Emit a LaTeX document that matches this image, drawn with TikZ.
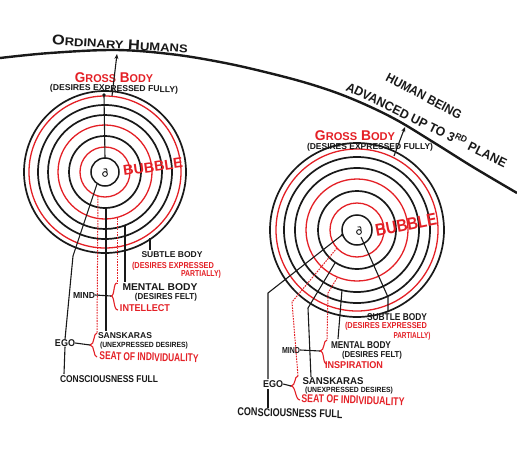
\documentclass[tikz,border=0pt]{standalone}
\usepackage{fontspec}
\setmainfont{Liberation Sans}
\usepackage{graphicx}
\usetikzlibrary{arrows.meta}
\definecolor{ink}{RGB}{25,25,25}
\definecolor{inkred}{RGB}{228,32,38}
\newcommand{\fitbox}[3]{\resizebox*{#1pt}{#2pt}{#3}}
\begin{document}
\begin{tikzpicture}[x=1pt,y=-1pt,
  lab/.style={inner sep=0pt,text=ink,font=\bfseries},
  rlab/.style={inner sep=0pt,text=inkred,font=\bfseries},
  kline/.style={draw=ink,line width=1.1pt},
  rdash/.style={draw=inkred,line width=1pt,dash pattern=on 1.6pt off 1.1pt},
  rbrace/.style={draw=inkred,line width=1.1pt},
  arr/.style={draw=ink,line width=1.1pt,-{Stealth[length=5pt,width=4pt]}},
  horizon/.style={draw=ink,line width=2.4pt}]
\useasboundingbox (0,0) rectangle (517,450);
\fill[white] (0,0) rectangle (517,450);

% horizon curve
\draw[horizon] plot[smooth,tension=0.6] coordinates {(0,58) (50,53) (115,50) (170,54) (220,62) (265,72) (310,84) (350,98) (393,118) (433,142) (473,167) (517,193)};

\node[lab,rotate=-3.5] (ordh) at (120,44) {\fitbox{136}{10}{O{\footnotesize RDINARY} H{\footnotesize UMANS}}};
\node[lab,rotate=-28] (hb) at (424,96) {\fitbox{84}{9}{HUMAN BEING}};
\node[lab,rotate=-26] (adv) at (427,124) {\fitbox{177}{11}{ADVANCED UP TO 3\textsuperscript{RD} PLANE}};

% ---- left bubble ----
\coordinate (c1) at (105,172);
\foreach \r/\c/\w in {81/ink/1.7,67/ink/1.7,57/ink/1.7,36/ink/1.7,14/ink/1.5,76/inkred/1.3,47/inkred/1.3,25/inkred/1.3}
  \draw[draw=\c,line width=\w pt] (c1) circle[radius=\r];
\draw[ink,line width=0.9pt] (105,174) circle[radius=2.4];
\draw[ink,line width=0.9pt] (106.8,172.6) .. controls (108,169) and (105,167.5) .. (103.5,169);

\node[rlab] (grL) at (114,77.5) {\fitbox{78}{10}{G{\footnotesize ROSS} B{\footnotesize ODY}}};
\node[lab,rotate=-1] (grLa) at (114,89) {\fitbox{128}{8}{(DESIRES EXPRESSED FULLY)}};
\node[rlab,rotate=8] (bubL) at (153,167) {\fitbox{60}{10}{BUBBLE}};

\coordinate (aL0) at (112,96);
\coordinate (aL1) at (117,54);
\draw[arr] (aL0) -- (aL1);
\coordinate (vL0) at (104,95);
\coordinate (vL1) at (105,158);
\fill[ink] (vL0) circle[radius=1.8];
\draw[kline] (vL0) -- (vL1);

\node[lab] (subL) at (172,255) {\fitbox{61}{6}{SUBTLE BODY}};
\node[rlab] (subLa) at (173,266) {\fitbox{82}{8}{(DESIRES EXPRESSED}};
\node[rlab] (subLb) at (201,274) {\fitbox{40}{8}{PARTIALLY)}};
\node[lab] (menL) at (160,287) {\fitbox{75}{7}{MENTAL BODY}};
\node[lab] (menLa) at (166,297) {\fitbox{62}{8}{(DESIRES FELT)}};
\node[lab] (mindL) at (84,295) {\fitbox{22}{6}{MIND}};
\node[rlab] (intL) at (145,308) {\fitbox{50}{7}{INTELLECT}};
\node[lab] (egoL) at (65,343) {\fitbox{20}{7}{EGO}};
\node[lab] (sanL) at (125,336) {\fitbox{54}{6}{SANSKARAS}};
\node[lab] (sanLa) at (144,346) {\fitbox{88}{7}{(UNEXPRESSED DESIRES)}};
\node[rlab,rotate=-1.5] (seatL) at (149,357) {\fitbox{99}{8}{SEAT OF INDIVIDUALITY}};
\node[lab] (conL) at (109,379) {\fitbox{98}{7}{CONSCIOUSNESS FULL}};

% consciousness line
\coordinate (l1a) at (97,184);
\coordinate (l1b) at (73,256);
\coordinate (l1c) at (64,374);
\draw[kline] (l1a) -- (l1b) -- (egoL.north);
\draw[kline] (egoL.south) -- (l1c);
% seat of individuality (red)
\coordinate (l2a) at (98,196);
\coordinate (bEL) at (97,333);
\coordinate (tEL) at (90,345);
\draw[rdash] (l2a) -- (bEL);
\draw[rbrace] (bEL) .. controls (93,333) and (95,345) .. (tEL) .. controls (95,345) and (93,357) .. (97,357);
\draw[kline] (egoL.east) -- (tEL);
% sanskaras
\coordinate (l3a) at (106,208);
\coordinate (l3b) at (106,331);
\draw[kline] (l3a) -- (l3b);
% intellect (red)
\coordinate (l4a) at (117,218);
\coordinate (bML) at (117,283);
\coordinate (tML) at (111,296);
\draw[rdash] (l4a) -- (bML);
\draw[rbrace] (bML) .. controls (113,283) and (115,296) .. (tML) .. controls (115,296) and (113,310) .. (118,310);
\draw[kline] (mindL.east) -- (tML);
% mental body
\coordinate (l5a) at (125,226);
\coordinate (l5b) at (125,282);
\draw[kline] (l5a) -- (l5b);
% subtle body
\coordinate (l6a) at (150,238);
\coordinate (l6b) at (150,250);
\draw[kline] (l6a) -- (l6b);

% ---- right bubble ----
\coordinate (c2) at (357,230);
\foreach \r/\c/\w in {87/ink/1.7,73/ink/1.7,62/ink/1.7,39/ink/1.7,15/ink/1.5,81/inkred/1.3,51/inkred/1.3,27/inkred/1.3}
  \draw[draw=\c,line width=\w pt] (c2) circle[radius=\r];
\draw[ink,line width=0.9pt] (359,232) circle[radius=2.4];
\draw[ink,line width=0.9pt] (360.8,230.6) .. controls (362,227) and (359,225.5) .. (357.5,227);

\node[rlab] (grR) at (355,136) {\fitbox{80}{10}{G{\footnotesize ROSS} B{\footnotesize ODY}}};
\node[lab] (grRa) at (370,147) {\fitbox{126}{8}{(DESIRES EXPRESSED FULLY)}};
\node[rlab,rotate=11] (bubR) at (406,225) {\fitbox{62}{12}{BUBBLE}};

\coordinate (aR0) at (394,156);
\coordinate (aR1) at (405,127);
\draw[arr] (aR0) -- (aR1);

\node[lab] (subR) at (397,317) {\fitbox{60}{7}{SUBTLE BODY}};
\node[rlab] (subRa) at (386,326) {\fitbox{82}{8}{(DESIRES EXPRESSED}};
\node[rlab] (subRb) at (412,336) {\fitbox{37}{8}{PARTIALLY)}};
\node[lab] (menR) at (361,345) {\fitbox{60}{7}{MENTAL BODY}};
\node[lab] (menRa) at (372,355) {\fitbox{60}{8}{(DESIRES FELT)}};
\node[lab] (mindR) at (291,350) {\fitbox{18}{6}{MIND}};
\node[rlab] (insR) at (354,365) {\fitbox{58}{7}{INSPIRATION}};
\node[lab] (egoR) at (273,384) {\fitbox{20}{7}{EGO}};
\node[lab] (sanR) at (333,381) {\fitbox{61}{7}{SANSKARAS}};
\node[lab] (sanRa) at (349,391) {\fitbox{88}{7}{(UNEXPRESSED DESIRES)}};
\node[rlab,rotate=-2] (seatR) at (353,400) {\fitbox{103}{8}{SEAT OF INDIVIDUALITY}};
\node[lab,rotate=-1.5] (conR) at (290,413) {\fitbox{105}{8}{CONSCIOUSNESS FULL}};

% consciousness line
\coordinate (r1a) at (342,235);
\coordinate (r1b) at (268,293);
\coordinate (r1c) at (268,379);
\coordinate (r1d) at (268,389);
\coordinate (r1e) at (268,408);
\fill[ink] (r1a) circle[radius=1.5];
\draw[kline] (r1a) -- (r1b) -- (r1c);
\draw[kline] (r1d) -- (r1e);
% seat of individuality (red)
\coordinate (r2a) at (337,248);
\coordinate (r2b) at (292,302);
\coordinate (bER) at (298,376);
\coordinate (tER) at (291,386);
\draw[rdash] (r2a) -- (r2b) -- (bER);
\draw[rbrace] (bER) .. controls (294,376) and (296,386) .. (tER) .. controls (296,386) and (295,400) .. (300,400);
\draw[kline] (egoR.east) -- (tER);
% sanskaras
\coordinate (r3a) at (335,263);
\coordinate (r3b) at (308,308);
\coordinate (r3c) at (311,377);
\draw[kline] (r3a) -- (r3b) -- (r3c);
% inspiration (red)
\coordinate (r4a) at (337,278);
\coordinate (r4b) at (328,293);
\coordinate (bMR) at (327,340);
\coordinate (tMR) at (320,351);
\draw[rdash] (r4a) -- (r4b) -- (bMR);
\draw[rbrace] (bMR) .. controls (323,340) and (325,351) .. (tMR) .. controls (325,351) and (322,364) .. (327,364);
\draw[kline] (mindR.east) -- (tMR);
% mental body
\coordinate (r5a) at (342,290);
\coordinate (r5b) at (338,339);
\draw[kline] (r5a) -- (r5b);
% subtle body
\coordinate (r6a) at (361,237);
\coordinate (r6b) at (388,297);
\coordinate (r6c) at (388,312);
\draw[kline] (r6a) -- (r6b) -- (r6c);
\end{tikzpicture}
\end{document}
